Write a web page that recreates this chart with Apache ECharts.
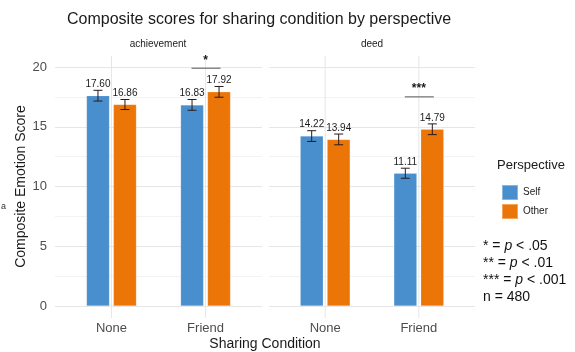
<!DOCTYPE html>
<html>
<head>
<meta charset="utf-8">
<script src="https://cdn.jsdelivr.net/npm/echarts@6/dist/echarts.min.js"></script>
<style>
  html, body { margin: 0; padding: 0; background: #fff; }
  #chart { width: 575px; height: 352px; }
</style>
</head>
<body>
<div id="chart"></div>
<script>
// 数据
const categories = ['None', 'Friend'];
const facets = ['achievement', 'deed'];
const selfAch = [17.60, 16.83];
const otherAch = [16.86, 17.92];
const selfDeed = [14.22, 11.11];
const otherDeed = [13.94, 14.79];
const selfAchErr = [0.45, 0.45];
const otherAchErr = [0.42, 0.45];
const selfDeedErr = [0.45, 0.42];
const otherDeedErr = [0.45, 0.45];
const sigCat = [2, 2];            // 显著性标记所在类别 (1 = None, 2 = Friend)
const sigY = [19.9, 17.5];        // 显著性横线高度
const sigText = ['*', '***'];
const noteLines = ['* = {i|p} < .05', '** = {i|p} < .01', '*** = {i|p} < .001', 'n = 480'];

const BLUE = '#4a8fcd';
const ORANGE = '#ec7508';
const DODGE = 13.5;   // 每根柱子中心距类别中心的像素
const FONT = 'Liberation Sans, Arial, sans-serif';

const chart = echarts.init(document.getElementById('chart'));

// 类别序号 -> [x, y] 数据
function pairs(vals) {
  return vals.map((v, i) => [i + 1, v]);
}

// 竖直网格线 (超出 0~20 一点, 模仿 ggplot 面板)
function vGridSeries(idx) {
  return {
    type: 'custom', xAxisIndex: idx, yAxisIndex: idx, silent: true, clip: false, z: 0,
    data: categories.map((c, i) => [i + 1, 0]),
    renderItem: function (params, api) {
      const b = api.coord([api.value(0), 0]);
      const t = api.coord([api.value(0), 20]);
      return {
        type: 'line',
        shape: { x1: b[0], y1: b[1] + 12, x2: t[0], y2: t[1] - 11 },
        style: { stroke: '#e6e6e6', lineWidth: 1 }
      };
    }
  };
}

function barSeries(name, idx, vals, color) {
  return {
    name: name, type: 'bar', xAxisIndex: idx, yAxisIndex: idx,
    data: pairs(vals), barWidth: 23, barGap: '17%',
    itemStyle: { color: color, borderColor: 'rgba(255,255,255,0.35)', borderWidth: 0.5 },
    z: 2
  };
}

// 误差线 + 数值标签
function errSeries(idx, vals, errs, offset) {
  return {
    type: 'custom', xAxisIndex: idx, yAxisIndex: idx, silent: true, clip: false, z: 5,
    data: vals.map((v, i) => [i + 1, v, errs[i]]),
    renderItem: function (params, api) {
      const x = api.value(0), y = api.value(1), e = api.value(2);
      const top = api.coord([x, y + e]);
      const bot = api.coord([x, y - e]);
      const cx = top[0] + offset;
      const st = { stroke: '#2a1a1a', lineWidth: 1 };
      return {
        type: 'group',
        children: [
          { type: 'line', shape: { x1: cx, y1: top[1], x2: cx, y2: bot[1] }, style: st },
          { type: 'line', shape: { x1: cx - 4.5, y1: top[1], x2: cx + 4.5, y2: top[1] }, style: st },
          { type: 'line', shape: { x1: cx - 4.5, y1: bot[1], x2: cx + 4.5, y2: bot[1] }, style: st },
          {
            type: 'text',
            style: {
              x: cx, y: top[1] - 1, text: y.toFixed(2),
              fill: '#1a1a1a', font: '10px ' + FONT, align: 'center', verticalAlign: 'bottom'
            }
          }
        ]
      };
    }
  };
}

// 显著性横线
function sigSeries(idx) {
  return {
    type: 'custom', xAxisIndex: idx, yAxisIndex: idx, silent: true, clip: false, z: 5,
    data: [[sigCat[idx], sigY[idx]]],
    renderItem: function (params, api) {
      const p = api.coord([api.value(0), api.value(1)]);
      return {
        type: 'group',
        children: [
          { type: 'line', shape: { x1: p[0] - 14, y1: p[1], x2: p[0] + 15, y2: p[1] },
            style: { stroke: '#555', lineWidth: 1 } },
          { type: 'text',
            style: { x: p[0], y: p[1] - 2, text: sigText[idx], fill: '#1a1a1a',
                     font: 'bold 12px ' + FONT, align: 'center', verticalAlign: 'bottom' } }
        ]
      };
    }
  };
}

function xAxisOf(idx) {
  return {
    type: 'value', gridIndex: idx, min: 0.4, max: 2.6,
    axisLine: { show: false }, axisTick: { show: false }, splitLine: { show: false },
    axisLabel: {
      customValues: [1, 2],
      formatter: v => categories[Math.round(v) - 1] || '',
      color: '#4d4d4d', fontSize: 13, fontFamily: FONT, margin: 16
    }
  };
}

function yAxisOf(idx) {
  return {
    type: 'value', gridIndex: idx, min: 0, max: 20, interval: 5,
    axisLine: { show: false }, axisTick: { show: false },
    axisLabel: { show: idx === 0, color: '#4d4d4d', fontSize: 13, fontFamily: FONT, margin: 8 },
    splitLine: { lineStyle: { color: '#e6e6e6', width: 1 } },
    minorTick: { show: false, splitNumber: 2 },
    minorSplitLine: { show: true, lineStyle: { color: '#f3f3f3', width: 1 } },
    name: idx === 0 ? 'Composite Emotion Score' : '',
    nameLocation: 'middle', nameGap: 25,
    nameTextStyle: { color: '#1a1a1a', fontSize: 14, fontFamily: FONT }
  };
}

const option = {
  backgroundColor: '#fff',
  animation: false,
  title: {
    text: 'Composite scores for sharing condition by perspective',
    left: 62, top: 7,
    textStyle: { fontSize: 16, fontWeight: 'normal', color: '#1a1a1a', fontFamily: FONT }
  },
  grid: [
    { left: 55, width: 207, top: 67, bottom: 46 },
    { left: 269, width: 206, top: 67, bottom: 46 }
  ],
  xAxis: [xAxisOf(0), xAxisOf(1)],
  yAxis: [yAxisOf(0), yAxisOf(1)],
  legend: {
    data: ['Self', 'Other'], orient: 'vertical', left: 496, top: 179,
    icon: 'rect', itemWidth: 16, itemHeight: 15, itemGap: 2,
    textStyle: { fontSize: 10, color: '#1a1a1a', fontFamily: FONT }
  },
  graphic: [
    { type: 'text', left: 497, top: 159,
      style: { text: 'Perspective', fill: '#1a1a1a', font: '13px ' + FONT } },
    { type: 'text', x: 158, y: 44,
      style: { text: facets[0], fill: '#1a1a1a', font: '10px ' + FONT, align: 'center', verticalAlign: 'middle' } },
    { type: 'text', x: 372, y: 44,
      style: { text: facets[1], fill: '#1a1a1a', font: '10px ' + FONT, align: 'center', verticalAlign: 'middle' } },
    { type: 'text', x: 265, y: 344,
      style: { text: 'Sharing Condition', fill: '#1a1a1a', font: '14px ' + FONT, align: 'center', verticalAlign: 'middle' } },
    { type: 'text', x: 1, y: 207,
      style: { text: 'a', fill: '#333', font: '9px ' + FONT, verticalAlign: 'middle' } },
    {
      type: 'text', left: 483, top: 238,
      style: {
        text: noteLines.join('\n'),
        fill: '#111', font: '14px ' + FONT, lineHeight: 17,
        rich: { i: { fontStyle: 'italic', fontSize: 14, fill: '#111', fontFamily: FONT, lineHeight: 17 } }
      }
    }
  ],
  series: [
    vGridSeries(0), vGridSeries(1),
    barSeries('Self', 0, selfAch, BLUE),
    barSeries('Other', 0, otherAch, ORANGE),
    barSeries('Self', 1, selfDeed, BLUE),
    barSeries('Other', 1, otherDeed, ORANGE),
    errSeries(0, selfAch, selfAchErr, -DODGE),
    errSeries(0, otherAch, otherAchErr, DODGE),
    errSeries(1, selfDeed, selfDeedErr, -DODGE),
    errSeries(1, otherDeed, otherDeedErr, DODGE),
    sigSeries(0), sigSeries(1)
  ]
};

chart.setOption(option);
</script>
</body>
</html>
